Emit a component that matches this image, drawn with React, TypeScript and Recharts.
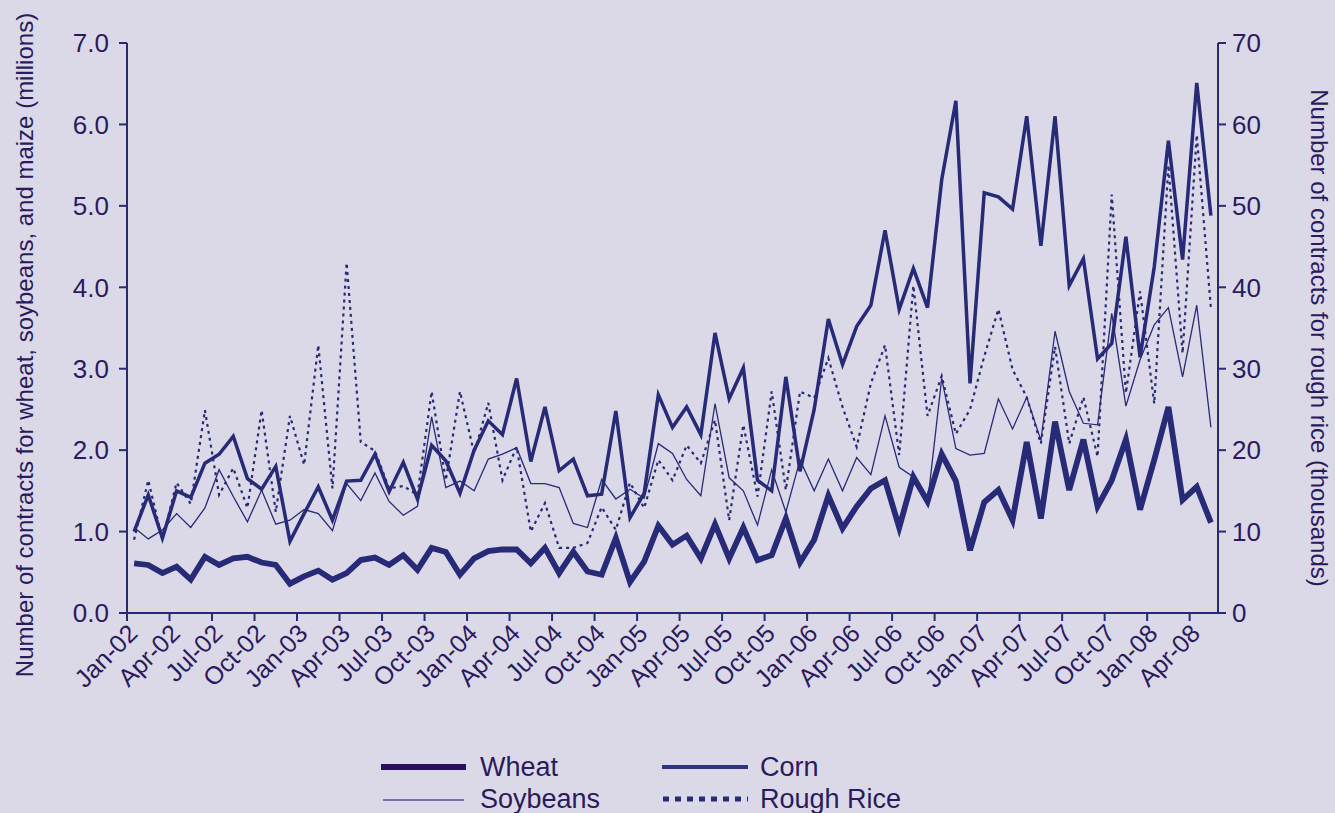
import { Line, LineChart, XAxis, YAxis } from "recharts";

// Monthly futures contracts, Jan-02 .. May-08
const tickLabels = [
  "Jan-02", "Apr-02", "Jul-02", "Oct-02",
  "Jan-03", "Apr-03", "Jul-03", "Oct-03",
  "Jan-04", "Apr-04", "Jul-04", "Oct-04",
  "Jan-05", "Apr-05", "Jul-05", "Oct-05",
  "Jan-06", "Apr-06", "Jul-06", "Oct-06",
  "Jan-07", "Apr-07", "Jul-07", "Oct-07",
  "Jan-08", "Apr-08",
];

// millions
const wheat = [
  0.61, 0.59, 0.49, 0.57, 0.41, 0.69, 0.59, 0.67, 0.69, 0.62, 0.59, 0.36,
  0.45, 0.52, 0.41, 0.49, 0.65, 0.68, 0.59, 0.71, 0.53, 0.8, 0.75, 0.47,
  0.67, 0.76, 0.78, 0.78, 0.61, 0.8, 0.49, 0.75, 0.51, 0.47, 0.92, 0.38,
  0.63, 1.07, 0.84, 0.95, 0.67, 1.09, 0.67, 1.05, 0.65, 0.71, 1.16, 0.62,
  0.9, 1.44, 1.04, 1.31, 1.53, 1.63, 1.05, 1.67, 1.37, 1.95, 1.62, 0.77,
  1.36, 1.51, 1.14, 2.1, 1.16, 2.35, 1.51, 2.13, 1.31, 1.63, 2.13, 1.27,
  1.88, 2.53, 1.39, 1.55, 1.11,
];

const corn = [
  1.0, 1.45, 0.92, 1.5, 1.42, 1.84, 1.95, 2.17, 1.65, 1.52, 1.8, 0.88,
  1.22, 1.55, 1.14, 1.62, 1.63, 1.95, 1.49, 1.85, 1.4, 2.06, 1.87, 1.47,
  2.0, 2.36, 2.19, 2.88, 1.86, 2.53, 1.75, 1.89, 1.44, 1.46, 2.48, 1.17,
  1.47, 2.68, 2.28, 2.53, 2.19, 3.44, 2.63, 3.01, 1.63, 1.5, 2.9, 1.74,
  2.5, 3.61, 3.05, 3.52, 3.78, 4.7, 3.73, 4.23, 3.75, 5.32, 6.29, 2.82,
  5.16, 5.11, 4.96, 6.1, 4.51, 6.1, 4.02, 4.35, 3.12, 3.31, 4.62, 3.14,
  4.25, 5.8, 4.34, 6.51, 4.88,
];

const soybeans = [
  1.05, 0.91, 1.02, 1.22, 1.05, 1.29, 1.76, 1.43, 1.12, 1.51, 1.09, 1.14,
  1.27, 1.22, 1.01, 1.59, 1.38, 1.72, 1.37, 1.2, 1.31, 2.41, 1.54, 1.62,
  1.5, 1.89, 1.95, 2.03, 1.59, 1.59, 1.54, 1.1, 1.05, 1.64, 1.4, 1.52,
  1.41, 2.08, 1.96, 1.64, 1.44, 2.57, 1.66, 1.5, 1.08, 1.76, 1.24, 1.88,
  1.5, 1.89, 1.5, 1.91, 1.7, 2.42, 1.79, 1.67, 1.35, 2.88, 2.02, 1.94,
  1.96, 2.63, 2.26, 2.65, 2.12, 3.46, 2.72, 2.33, 2.31, 3.68, 2.54, 3.11,
  3.54, 3.75, 2.9, 3.78, 2.28,
];

// thousands
const roughRice = [
  9.0, 16.3, 9.0, 16.0, 13.4, 24.9, 14.5, 17.8, 12.9, 24.9, 12.4, 24.2,
  18.2, 32.9, 15.3, 43.0, 21.0, 19.9, 15.3, 15.6, 14.5, 27.2, 16.3, 27.2,
  19.6, 25.8, 16.3, 20.4, 10.0, 13.5, 8.0, 8.0, 8.6, 13.0, 10.2, 16.0,
  12.9, 18.8, 16.3, 20.6, 18.4, 23.7, 11.4, 23.1, 14.3, 27.2, 15.1, 27.2,
  26.4, 31.3, 25.3, 20.4, 28.2, 32.9, 19.4, 40.2, 24.2, 29.1, 22.0, 25.0,
  31.5, 37.3, 29.9, 26.5, 20.8, 32.7, 20.8, 26.5, 19.2, 51.4, 27.0, 39.5,
  25.7, 55.0, 31.9, 58.7, 37.4,
];

const leftTicks = [0, 1, 2, 3, 4, 5, 6, 7];
const rightTicks = [0, 10, 20, 30, 40, 50, 60, 70];

// each month sits in the middle of its slot, ticks on the slot edges
const data = wheat.map((w, i) => ({
  x: i + 0.5,
  wheat: w,
  corn: corn[i],
  soybeans: soybeans[i],
  rice: roughRice[i],
}));

const BG = "#dbd9e7";
const NAVY = "#272a77";
const TEXT = "#2b1a5e";
const FONT = "'Liberation Sans', Arial, sans-serif";

const XTick = ({ x, y, payload }: any) => {
  const label = tickLabels[Math.round(payload.value / 3)];
  return (
    <g transform={`translate(${x + 12},${y + 12})`}>
      <text
        textAnchor="end"
        transform="rotate(-45)"
        fill={TEXT}
        fontSize={25}
        fontFamily={FONT}
      >
        {label}
      </text>
    </g>
  );
};

const LeftTitle = () => {
  const cx = 24;
  const cy = 345;
  return (
    <text
      x={cx}
      y={cy}
      transform={`rotate(-90, ${cx}, ${cy})`}
      textAnchor="middle"
      dominantBaseline="central"
      fill={TEXT}
      fontSize={24}
      fontFamily={FONT}
    >
      Number of contracts for wheat, soybeans, and maize (millions)
    </text>
  );
};

const RightTitle = () => {
  const cx = 1319;
  const cy = 338;
  return (
    <text
      x={cx}
      y={cy}
      transform={`rotate(90, ${cx}, ${cy})`}
      textAnchor="middle"
      dominantBaseline="central"
      fill={TEXT}
      fontSize={24}
      fontFamily={FONT}
    >
      Number of contracts for rough rice (thousands)
    </text>
  );
};

function LegendBox() {
  const txt = { fill: TEXT, fontSize: 27, fontFamily: FONT };
  return (
    <svg
      width={1335}
      height={813}
      style={{ position: "absolute", left: 0, top: 0, pointerEvents: "none" }}
    >
      <line x1={381} x2={466} y1={767} y2={767} stroke="#2a0f5f" strokeWidth={6} />
      <text x={480} y={776} {...txt}>Wheat</text>
      <line x1={662} x2={748} y1={767} y2={767} stroke="#2d3580" strokeWidth={4} />
      <text x={760} y={776} {...txt}>Corn</text>
      <line x1={383} x2={464} y1={800} y2={800} stroke="#5a4c8c" strokeWidth={1.5} />
      <text x={480} y={808} {...txt}>Soybeans</text>
      <line
        x1={663}
        x2={748}
        y1={799}
        y2={799}
        stroke={NAVY}
        strokeWidth={5}
        strokeDasharray="6 6"
      />
      <text x={760} y={808} {...txt}>Rough Rice</text>
    </svg>
  );
}

export default function App() {
  return (
    <div
      style={{
        position: "absolute",
        left: 0,
        top: 0,
        width: 1335,
        height: 813,
        background: BG,
        overflow: "hidden",
      }}
    >
      <LineChart
        width={1335}
        height={813}
        data={data}
        margin={{ top: 43, right: 7, left: 7, bottom: 100 }}
      >
        <XAxis
          dataKey="x"
          type="number"
          domain={[0, 77]}
          ticks={tickLabels.map((_, i) => i * 3)}
          interval={0}
          tick={<XTick />}
          tickSize={8}
          height={100}
          stroke={NAVY}
          strokeWidth={2}
          allowDataOverflow
        />
        <YAxis
          yAxisId="left"
          domain={[0, 7]}
          ticks={leftTicks}
          tickFormatter={(v: number) => v.toFixed(1)}
          width={120}
          tickSize={8}
          tickMargin={10}
          stroke={NAVY}
          strokeWidth={2}
          tick={{ fill: TEXT, fontSize: 26, fontFamily: FONT }}
          label={LeftTitle}
        />
        <YAxis
          yAxisId="right"
          orientation="right"
          domain={[0, 70]}
          ticks={rightTicks}
          width={110}
          tickSize={8}
          tickMargin={6}
          stroke={NAVY}
          strokeWidth={2}
          tick={{ fill: TEXT, fontSize: 26, fontFamily: FONT }}
          label={RightTitle}
        />
        <Line
          yAxisId="right"
          dataKey="rice"
          stroke={NAVY}
          strokeWidth={2.2}
          strokeDasharray="3 4"
          dot={false}
          activeDot={false}
          isAnimationActive={false}
        />
        <Line
          yAxisId="left"
          dataKey="soybeans"
          stroke={NAVY}
          strokeWidth={1.3}
          dot={false}
          activeDot={false}
          isAnimationActive={false}
        />
        <Line
          yAxisId="left"
          dataKey="corn"
          stroke={NAVY}
          strokeWidth={3.5}
          dot={false}
          activeDot={false}
          isAnimationActive={false}
        />
        <Line
          yAxisId="left"
          dataKey="wheat"
          stroke={NAVY}
          strokeWidth={5.8}
          dot={false}
          activeDot={false}
          isAnimationActive={false}
        />
      </LineChart>
      <LegendBox />
    </div>
  );
}
